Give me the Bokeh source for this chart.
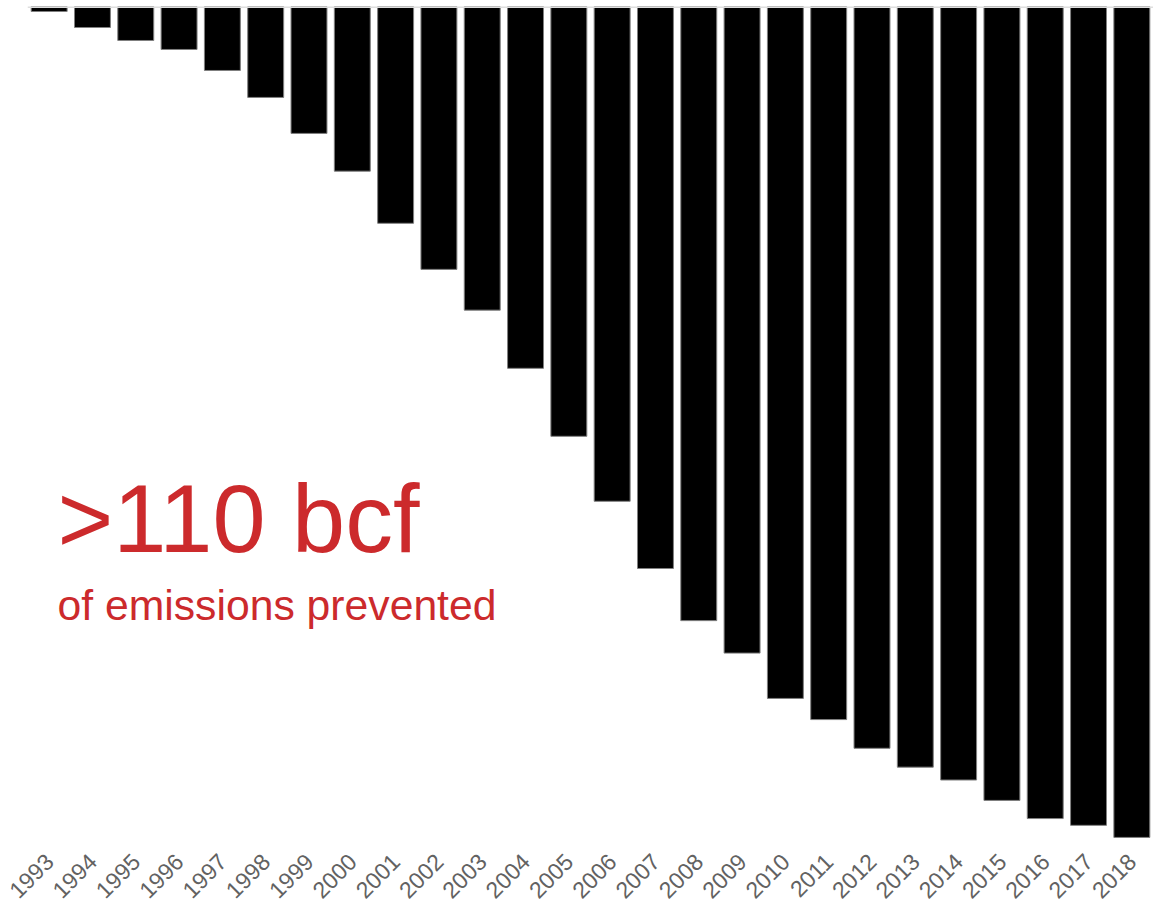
import math
from bokeh.plotting import figure
from bokeh.models import Range1d, Span, Label, FactorRange
from bokeh.embed import file_html
from bokeh.resources import INLINE

years = [str(y) for y in range(1993, 2019)]
prevented = [0.66, 2.78, 4.5, 5.69, 8.47, 12.04, 16.8, 21.8, 28.7, 34.8, 40.2, 47.9,
             56.9, 65.5, 74.4, 81.3, 85.6, 91.6, 94.4, 98.2, 100.7, 102.4, 105.1,
             107.5, 108.4, 110.0]
headline = ">110 bcf"
subline = "of emissions prevented"

p = figure(frame_width=1126, frame_height=840,
           x_range=FactorRange(factors=years, range_padding=0),
           y_range=Range1d(111.2, 0), output_backend="svg", toolbar_location=None,
           min_border_left=27, min_border_right=0, min_border_top=6, min_border_bottom=0)
p.vbar(x=years, top=prevented, bottom=0, width=0.83, fill_color="black",
       line_color="#808080", line_width=1)

p.add_layout(Span(location=0, dimension="width", line_color="#dedede", line_width=3))

p.yaxis.visible = False
p.xgrid.visible = False
p.ygrid.visible = False
p.outline_line_color = None
p.xaxis.axis_line_color = None
p.xaxis.major_tick_line_color = None
p.xaxis.minor_tick_line_color = None
p.xaxis.major_label_orientation = math.pi / 4
p.xaxis.major_label_text_font = "Liberation Sans"
p.xaxis.major_label_text_font_size = "23px"
p.xaxis.major_label_text_color = "#626262"
p.xaxis.major_label_standoff = 5

red = "#cc2a2c"
p.add_layout(Label(x=30, y=328, x_units="screen", y_units="screen", text=headline,
                   text_font="Liberation Sans", text_font_size="95.5px", text_color=red,
                   text_baseline="alphabetic"))
p.add_layout(Label(x=30, y=242, x_units="screen", y_units="screen", text=subline,
                   text_font="Liberation Sans", text_font_size="42.7px", text_color=red,
                   text_baseline="alphabetic"))

open("out.html", "w").write(file_html(p, INLINE))
